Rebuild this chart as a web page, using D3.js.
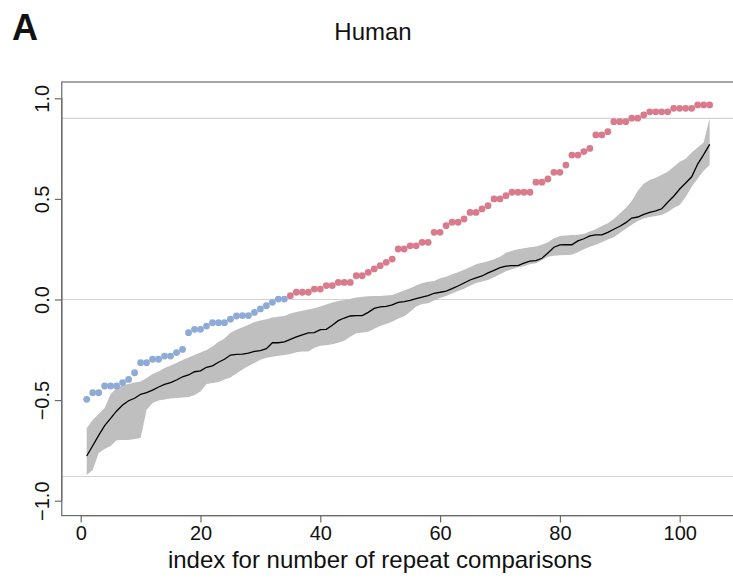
<!DOCTYPE html>
<html>
<head>
<meta charset="utf-8">
<script src="https://cdn.jsdelivr.net/npm/d3@7"></script>
<style>
  html, body { margin: 0; padding: 0; background: #fff; }
  svg { display: block; }
  text { font-family: "Liberation Sans", Arial, Helvetica, sans-serif; fill: #111; }
</style>
</head>
<body>
<svg id="chart" width="733" height="583"></svg>
<script>
// Observed correlation per repeat comparison (sorted), coloured by sign
const observed = [
  -0.496, -0.463, -0.463, -0.430, -0.430, -0.430, -0.413, -0.397, -0.364, -0.314,
  -0.314, -0.297, -0.297, -0.281, -0.281, -0.264, -0.248, -0.165, -0.148, -0.148,
  -0.132, -0.115, -0.115, -0.115, -0.098, -0.082, -0.080, -0.080, -0.064, -0.047,
  -0.031, -0.014, 0.002, 0.002, 0.019, 0.036, 0.036, 0.036, 0.052, 0.052,
  0.069, 0.069, 0.085, 0.085, 0.085, 0.118, 0.118, 0.135, 0.152, 0.168,
  0.185, 0.201, 0.251, 0.251, 0.267, 0.267, 0.284, 0.284, 0.334, 0.334,
  0.367, 0.384, 0.384, 0.400, 0.433, 0.433, 0.450, 0.466, 0.500, 0.500,
  0.516, 0.533, 0.533, 0.533, 0.533, 0.583, 0.583, 0.599, 0.632, 0.632,
  0.668, 0.718, 0.718, 0.735, 0.751, 0.818, 0.818, 0.834, 0.884, 0.884,
  0.884, 0.901, 0.901, 0.917, 0.933, 0.933, 0.933, 0.933, 0.950, 0.950,
  0.950, 0.950, 0.967, 0.967, 0.967
];

// Null expectation: mean and envelope
const nullMean = [
  -0.778, -0.727, -0.675, -0.627, -0.591, -0.554, -0.524, -0.503, -0.491, -0.471,
  -0.463, -0.450, -0.435, -0.422, -0.413, -0.400, -0.384, -0.375, -0.359, -0.355,
  -0.337, -0.330, -0.312, -0.297, -0.276, -0.273, -0.271, -0.266, -0.258, -0.254,
  -0.244, -0.215, -0.215, -0.211, -0.198, -0.186, -0.176, -0.166, -0.165, -0.150,
  -0.148, -0.128, -0.105, -0.092, -0.082, -0.080, -0.080, -0.064, -0.044, -0.037,
  -0.034, -0.027, -0.014, -0.011, -0.004, 0.004, 0.012, 0.019, 0.031, 0.036,
  0.042, 0.054, 0.067, 0.082, 0.097, 0.108, 0.117, 0.132, 0.145, 0.158,
  0.166, 0.168, 0.168, 0.181, 0.191, 0.193, 0.205, 0.231, 0.260, 0.271,
  0.272, 0.272, 0.291, 0.302, 0.316, 0.321, 0.321, 0.334, 0.349, 0.364,
  0.382, 0.405, 0.410, 0.423, 0.433, 0.441, 0.451, 0.483, 0.513, 0.549,
  0.579, 0.610, 0.673, 0.720, 0.771
];
const nullUpper = [
  -0.640, -0.599, -0.569, -0.539, -0.470, -0.440, -0.425, -0.420, -0.413, -0.408,
  -0.390, -0.370, -0.358, -0.340, -0.328, -0.316, -0.301, -0.288, -0.276, -0.263,
  -0.251, -0.234, -0.211, -0.194, -0.165, -0.150, -0.138, -0.125, -0.112, -0.104,
  -0.098, -0.090, -0.086, -0.082, -0.070, -0.062, -0.056, -0.050, -0.044, -0.035,
  -0.025, -0.015, -0.008, -0.002, 0.004, 0.010, 0.014, 0.016, 0.017, 0.018,
  0.020, 0.022, 0.033, 0.045, 0.056, 0.070, 0.082, 0.088, 0.092, 0.105,
  0.113, 0.125, 0.135, 0.148, 0.160, 0.175, 0.183, 0.190, 0.200, 0.213,
  0.232, 0.242, 0.250, 0.255, 0.260, 0.264, 0.272, 0.285, 0.305, 0.316,
  0.318, 0.320, 0.322, 0.326, 0.338, 0.349, 0.365, 0.379, 0.400, 0.428,
  0.455, 0.490, 0.540, 0.575, 0.594, 0.605, 0.620, 0.635, 0.660, 0.685,
  0.700, 0.730, 0.755, 0.780, 0.901
];
const nullLower = [
  -0.872, -0.848, -0.763, -0.743, -0.728, -0.700, -0.698, -0.698, -0.693, -0.688,
  -0.549, -0.514, -0.502, -0.497, -0.492, -0.490, -0.487, -0.485, -0.475, -0.457,
  -0.420, -0.415, -0.410, -0.398, -0.388, -0.368, -0.348, -0.331, -0.316, -0.300,
  -0.290, -0.284, -0.280, -0.276, -0.271, -0.262, -0.259, -0.259, -0.240, -0.230,
  -0.227, -0.222, -0.215, -0.205, -0.185, -0.168, -0.164, -0.160, -0.145, -0.132,
  -0.122, -0.110, -0.095, -0.083, -0.061, -0.035, -0.022, -0.019, -0.005, 0.008,
  0.018, 0.030, 0.042, 0.054, 0.068, 0.082, 0.090, 0.097, 0.110, 0.125,
  0.140, 0.150, 0.160, 0.165, 0.175, 0.180, 0.195, 0.212, 0.218, 0.220,
  0.221, 0.222, 0.235, 0.250, 0.262, 0.272, 0.285, 0.298, 0.310, 0.330,
  0.352, 0.372, 0.390, 0.402, 0.410, 0.415, 0.420, 0.435, 0.455, 0.470,
  0.510, 0.560, 0.600, 0.640, 0.668
];

const xTicks = [0, 20, 40, 60, 80, 100];
const yTicks = [-1.0, -0.5, 0.0, 0.5, 1.0];
const refLines = [0.9, 0.0, -0.88];
const xLimits = [-3.16, 109.16];
const yLimits = [-1.074, 1.081];

const panelLabel = "A";
const title = "Human";
const xTitle = "index for number of repeat comparisons";

const colNeg = "#8eabd8";
const colPos = "#da7b8d";
const colBand = "#bfbfbf";
const colAxis = "#6a6a6a";

const svg = d3.select("#chart");

const x = d3.scaleLinear().domain([0, 100]).range([80.7, 679.7]);
const y = d3.scaleLinear().domain([-1, 1]).range([500.7, 98.3]);

const rows = observed.map((v, i) => ({
  idx: i + 1, obs: v, mean: nullMean[i], hi: nullUpper[i], lo: nullLower[i]
}));

const frameL = x(xLimits[0]), frameR = x(xLimits[1]);
const frameT = y(yLimits[1]), frameB = y(yLimits[0]);

// reference lines
svg.append("g").selectAll("line").data(refLines).join("line")
  .attr("x1", frameL).attr("x2", frameR)
  .attr("y1", d => y(d)).attr("y2", d => y(d))
  .attr("stroke", "#d4d4d4").attr("stroke-width", 1.1);

// null envelope
svg.append("path").datum(rows)
  .attr("d", d3.area().x(d => x(d.idx)).y0(d => y(d.lo)).y1(d => y(d.hi)))
  .attr("fill", colBand).attr("stroke", "none");

// null mean
svg.append("path").datum(rows)
  .attr("d", d3.line().x(d => x(d.idx)).y(d => y(d.mean)))
  .attr("fill", "none").attr("stroke", "#000").attr("stroke-width", 1.3);

// observed points
svg.append("g").selectAll("circle").data(rows).join("circle")
  .attr("cx", d => x(d.idx)).attr("cy", d => y(d.obs)).attr("r", 3.4)
  .attr("fill", d => d.obs > 0.01 ? colPos : colNeg);

// frame
svg.append("rect")
  .attr("x", frameL).attr("y", frameT)
  .attr("width", frameR - frameL).attr("height", frameB - frameT)
  .attr("fill", "none").attr("stroke", colAxis).attr("stroke-width", 1.2);

// x axis
const xAxis = svg.append("g").attr("transform", `translate(0,${frameB})`)
  .call(d3.axisBottom(x).tickValues(xTicks).tickSize(7).tickPadding(3).tickFormat(d3.format("d")));
xAxis.select(".domain").attr("stroke", colAxis).attr("stroke-width", 1.2)
  .attr("d", `M${x(0)},0H${x(100)}`);
xAxis.selectAll(".tick line").attr("stroke", colAxis).attr("stroke-width", 1.2);
xAxis.selectAll(".tick text").attr("font-size", 20).attr("fill", "#111")
  .attr("font-family", "Liberation Sans, Arial, sans-serif");

// y axis with rotated labels
const yAxis = svg.append("g").attr("transform", `translate(${frameL},0)`)
  .call(d3.axisLeft(y).tickValues(yTicks).tickSize(7).tickFormat(d3.format(".1f")));
yAxis.select(".domain").attr("stroke", colAxis).attr("stroke-width", 1.2)
  .attr("d", `M0,${y(-1)}V${y(1)}`);
yAxis.selectAll(".tick line").attr("stroke", colAxis).attr("stroke-width", 1.2);
yAxis.selectAll(".tick text")
  .attr("font-size", 20).attr("fill", "#111")
  .attr("font-family", "Liberation Sans, Arial, sans-serif")
  .attr("x", null).attr("dy", null)
  .attr("text-anchor", "middle")
  .attr("transform", "translate(-13,0) rotate(-90)");

// titles
svg.append("text").attr("x", 373).attr("y", 40)
  .attr("text-anchor", "middle").attr("font-size", 24).text(title);

svg.append("text").attr("x", 12).attr("y", 40)
  .attr("font-size", 36).attr("font-weight", "bold").text(panelLabel);

svg.append("text").attr("x", 380).attr("y", 568)
  .attr("text-anchor", "middle").attr("font-size", 24).text(xTitle);
</script>
</body>
</html>
